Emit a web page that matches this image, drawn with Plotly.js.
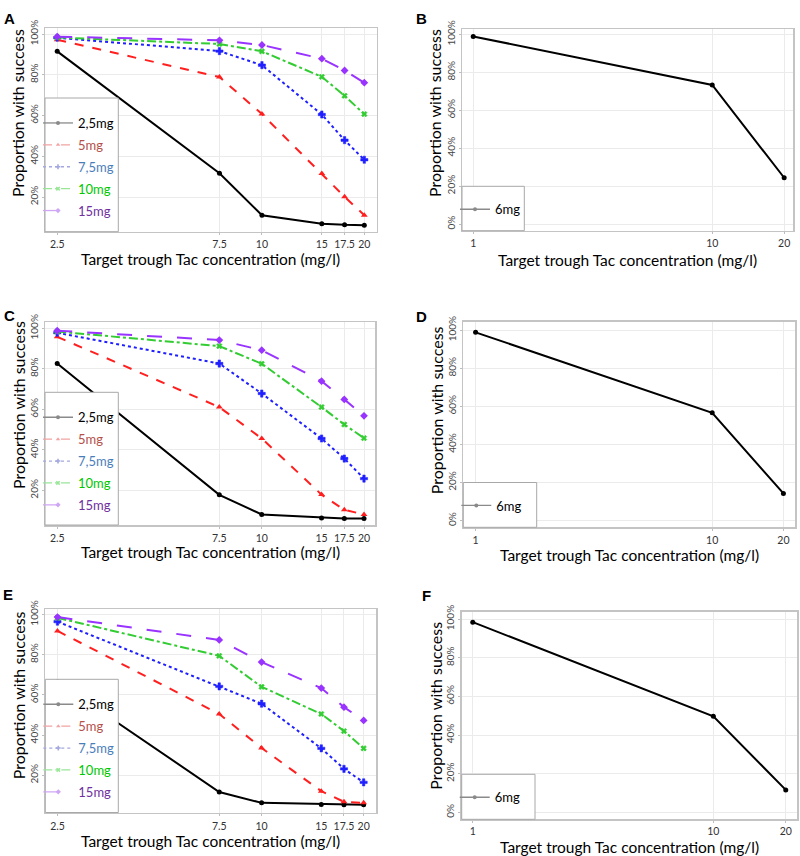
<!DOCTYPE html>
<html><head><meta charset="utf-8">
<script src="https://cdn.plot.ly/plotly-3.0.1.min.js"></script>
<style>html,body{margin:0;padding:0;background:#fff}</style>
</head><body><div id="chart" style="width:800px;height:856px"></div>
<script>
// ---------------- data ----------------
const xTarget = [2.5, 7.5, 10, 15, 17.5, 20];
const xTarget6 = [1, 10, 20];
const xTickText = ['2.5', '7.5', '10', '15', '17.5', '20'];
const xTickText6 = ['1', '10', '20'];
const yTickVals = [0, 0.2, 0.4, 0.6, 0.8, 1];
const yTickText = ['0%', '20%', '40%', '60%', '80%', '100%'];
const doseNames = ['2,5mg', '5mg', '7,5mg', '10mg', '15mg'];
const doseName6 = '6mg';
const xTitle = 'Target trough Tac concentration (mg/l)';
const yTitle = 'Proportion with success';

// Panel A
const a_2_5mg = [0.915, 0.317, 0.111, 0.069, 0.064, 0.062];
const a_5mg   = [0.972, 0.789, 0.607, 0.316, 0.201, 0.111];
const a_7_5mg = [0.982, 0.916, 0.847, 0.605, 0.479, 0.383];
const a_10mg  = [0.983, 0.951, 0.915, 0.790, 0.697, 0.607];
const a_15mg  = [0.987, 0.969, 0.946, 0.879, 0.821, 0.761];
// Panel B
const b_6mg = [0.989, 0.733, 0.244];
// Panel C
const c_2_5mg = [0.826, 0.178, 0.081, 0.064, 0.061, 0.061];
const c_5mg   = [0.958, 0.611, 0.456, 0.179, 0.104, 0.081];
const c_7_5mg = [0.978, 0.826, 0.678, 0.456, 0.357, 0.258];
const c_10mg  = [0.984, 0.912, 0.825, 0.611, 0.525, 0.458];
const c_15mg  = [0.988, 0.942, 0.892, 0.739, 0.649, 0.568];
// Panel D
const d_6mg = [0.988, 0.566, 0.143];
// Panel E
const e_2_5mg = [0.665, 0.117, 0.063, 0.055, 0.053, 0.053];
const e_5mg   = [0.918, 0.505, 0.336, 0.121, 0.068, 0.063];
const e_7_5mg = [0.964, 0.642, 0.556, 0.334, 0.232, 0.165];
const e_10mg  = [0.983, 0.794, 0.640, 0.505, 0.420, 0.334];
const e_15mg  = [0.987, 0.873, 0.763, 0.634, 0.539, 0.473];
// Panel F
const f_6mg = [0.984, 0.497, 0.116];

// ---------------- styles ----------------
const FONT = 'Lato, "Open Sans", sans-serif';
const W = 800, H = 856;
const seriesStyle = [
  {color: '#000000', dash: 'solid',    symbol: 'circle',      size: 5, leg: '#8a8a8a', txt: '#000000'},
  {color: '#ff1f1f', dash: 'dash',     symbol: 'triangle-up', size: 6, leg: '#f2a3a3', txt: '#b5504b'},
  {color: '#1f1fff', dash: 'dot',      symbol: 'cross',       size: 6, leg: '#a3a8e0', txt: '#4a7ebb'},
  {color: '#33cc33', dash: 'dashdot',  symbol: 'x',           size: 5, leg: '#99e699', txt: '#00c800'},
  {color: '#9933ff', dash: 'longdash', symbol: 'diamond',     size: 6, leg: '#cfa6f5', txt: '#7030a0'}
];

// panel geometry in pixels (plot box: left, right, top, bottom)
const panels = [
  {id: '',  letter: 'A', lx: 9,   ly: 18,  box: [45, 376.7, 28.3, 231.7],  xr: [0.362, 1.3375], yr: [0.030, 1.028], multi: true,
   data: [a_2_5mg, a_5mg, a_7_5mg, a_10mg, a_15mg], legTop: 98,  legRight: 118.3, xt: 259, yt: 113, tls: 0},
  {id: '2', letter: 'B', lx: 421, ly: 19,  box: [462, 793, 29, 230.7],     xr: [-0.047, 1.338], yr: [-0.035, 1.028], multi: false,
   data: [b_6mg], legTop: 186.3, legRight: 524.3, xt: 259.5, yt: 113, tls: 1.5},
  {id: '3', letter: 'C', lx: 9,   ly: 315, box: [45, 375, 322.3, 525],     xr: [0.362, 1.3334], yr: [0.029, 1.0296], multi: true,
   data: [c_2_5mg, c_5mg, c_7_5mg, c_10mg, c_15mg], legTop: 392.3, legRight: 118.3, xt: 552, yt: 405, tls: 1},
  {id: '4', letter: 'D', lx: 421, ly: 316, box: [463.3, 795, 321.7, 527.3], xr: [-0.052, 1.35], yr: [-0.035, 1.044], multi: false,
   data: [d_6mg], legTop: 482.5, legRight: 536.7, xt: 555, yt: 410, tls: 1},
  {id: '5', letter: 'E', lx: 8,   ly: 594, box: [45.3, 376, 609, 812.5],   xr: [0.362, 1.3375], yr: [0.015, 1.027], multi: true,
   data: [e_2_5mg, e_5mg, e_7_5mg, e_10mg, e_15mg], legTop: 679.3, legRight: 118.3, xt: 841, yt: 695, tls: 1},
  {id: '6', letter: 'F', lx: 427, ly: 595, box: [461.7, 797.3, 611.7, 819.3], xr: [-0.046, 1.349], yr: [-0.036, 1.038], multi: false,
   data: [f_6mg], legTop: 774.3, legRight: 535, xt: 847, yt: 706, tls: 1.5}
];

const traces = [];
const layout = {
  width: W, height: H,
  margin: {l: 0, r: 0, t: 0, b: 0},
  paper_bgcolor: '#ffffff', plot_bgcolor: '#ffffff',
  font: {family: FONT, color: '#000'},
  showlegend: true,
  shapes: [], annotations: []
};

panels.forEach((p, i) => {
  const xa = 'x' + p.id, ya = 'y' + p.id;
  const legId = 'legend' + (i === 0 ? '' : (i + 1));
  const [L, R, T, B] = p.box;
  const xs = p.multi ? xTarget : xTarget6;

  p.data.forEach((ys, k) => {
    const st = p.multi ? seriesStyle[k] : seriesStyle[0];
    traces.push({
      type: 'scatter', mode: 'lines+markers', x: xs, y: ys, xaxis: xa, yaxis: ya,
      showlegend: false, hoverinfo: 'skip',
      line: {color: st.color, width: 2, dash: st.dash},
      marker: {color: st.color, symbol: st.symbol, size: st.size,
               line: {color: st.color, width: st.symbol === 'cross' || st.symbol === 'x' ? 0.5 : 0}}
    });
    // legend entry (faint, like the reference key)
    const name = p.multi ? doseNames[k] : doseName6;
    traces.push({
      type: 'scatter', mode: 'lines+markers', x: [null], y: [null], xaxis: xa, yaxis: ya,
      name: '<span style="color:' + st.txt + '">' + name + '</span>',
      legend: legId, legendgroup: p.letter + k, showlegend: true, hoverinfo: 'skip',
      line: {color: st.leg, width: 1.3, dash: st.dash},
      marker: {color: st.leg, symbol: st.symbol, size: 4}
    });
  });

  layout['xaxis' + p.id] = {
    domain: [L / W, R / W], anchor: ya, type: 'log', range: p.xr,
    tickvals: xs, ticktext: p.multi ? xTickText : xTickText6,
    tickfont: {family: FONT, size: 10.5, color: '#333'},
    ticks: 'outside', ticklen: 2, tickcolor: '#bdbdbd', ticklabelstandoff: p.tls,
    showgrid: true, gridcolor: '#ebebeb', gridwidth: 1, zeroline: false,
    showline: true, mirror: true, linecolor: '#c4c4c4', linewidth: 1.5,
    automargin: false, fixedrange: true
  };
  layout['yaxis' + p.id] = {
    domain: [1 - B / H, 1 - T / H], anchor: xa, range: p.yr,
    tickvals: yTickVals, ticktext: yTickText, tickangle: -90,
    tickfont: {family: FONT, size: 10, color: '#444'},
    ticks: 'outside', ticklen: 2, tickcolor: '#bdbdbd',
    showgrid: true, gridcolor: '#ebebeb', gridwidth: 1, zeroline: false,
    showline: true, mirror: true, linecolor: '#c4c4c4', linewidth: 1.5,
    automargin: false, fixedrange: true
  };

  // legend key box
  layout.shapes.push({type: 'rect', xref: 'paper', yref: 'paper', layer: 'above',
    x0: L / W, x1: p.legRight / W, y0: 1 - B / H, y1: 1 - p.legTop / H,
    line: {color: '#a8a8a8', width: 1}, fillcolor: '#ffffff'});

  layout[legId] = {
    x: (L - 7) / W, y: 1 - (p.legTop + (p.multi ? 10 : 8)) / H, xanchor: 'left', yanchor: 'top',
    bgcolor: 'rgba(0,0,0,0)', borderwidth: 0,
    font: {family: FONT, size: 13, color: '#000'},
    tracegroupgap: 2, itemclick: false, itemdoubleclick: false
  };

  // panel letter
  layout.annotations.push({xref: 'paper', yref: 'paper', x: p.lx / W, y: 1 - p.ly / H,
    xanchor: 'center', yanchor: 'middle', showarrow: false, text: '<b>' + p.letter + '</b>',
    font: {family: 'Liberation Sans, Arial, sans-serif', size: 15, color: '#000'}});
  // y axis title
  layout.annotations.push({xref: 'paper', yref: 'paper', x: (L - 27) / W, y: 1 - p.yt / H,
    xanchor: 'center', yanchor: 'middle', showarrow: false, textangle: -90,
    text: yTitle, font: {family: FONT, size: 16, color: '#000'}});
  // x axis title
  layout.annotations.push({xref: 'paper', yref: 'paper', x: (L + R) / 2 / W, y: 1 - p.xt / H,
    xanchor: 'center', yanchor: 'middle', showarrow: false,
    text: xTitle, font: {family: FONT, size: 15.5, color: '#000'}});
});

Plotly.newPlot('chart', traces, layout, {staticPlot: true, displayModeBar: false});
</script>
</body></html>
